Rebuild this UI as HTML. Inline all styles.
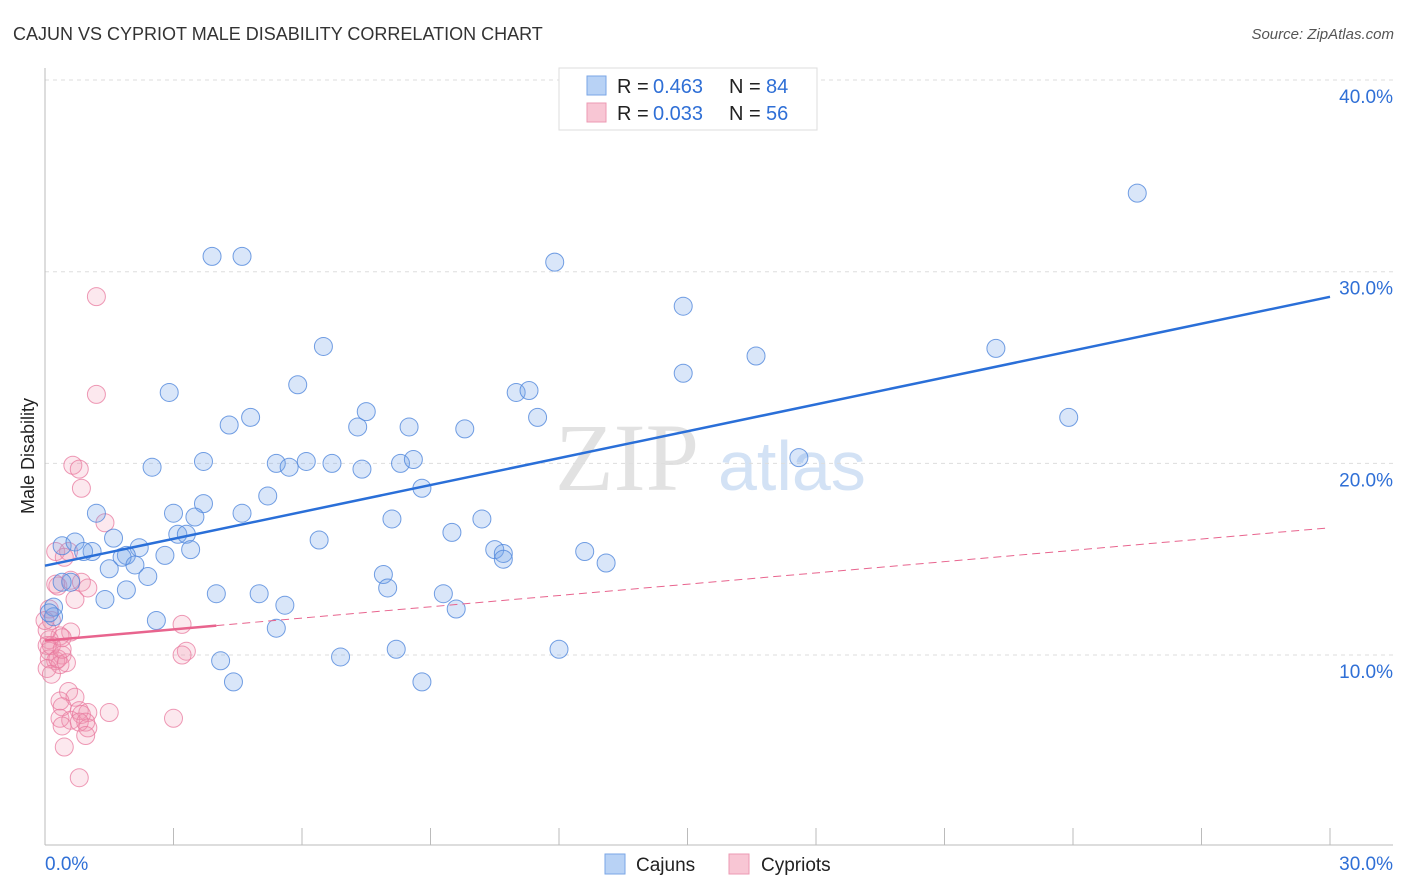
<!DOCTYPE html>
<html><head><meta charset="utf-8"><style>
body{margin:0;background:#fff;font-family:"Liberation Sans",sans-serif;}
#wrap{position:relative;width:1406px;height:892px;overflow:hidden;}
</style></head><body>
<div id="wrap">
<svg id="svg" width="1406" height="892" xmlns="http://www.w3.org/2000/svg">
<text x="13" y="40" font-size="18" fill="#333">CAJUN VS CYPRIOT MALE DISABILITY CORRELATION CHART</text>
<text x="1394" y="39" font-size="15" fill="#555" font-style="italic" text-anchor="end">Source: ZipAtlas.com</text>
<text transform="translate(34,456) rotate(-90)" font-size="18" fill="#222" text-anchor="middle">Male Disability</text>
<g>
<text x="555" y="490" font-size="96" fill="#e2e2e2" font-family="Liberation Serif,serif">ZIP</text>
<text x="718" y="490" font-size="70" fill="#d3e2f5">atlas</text>
</g>
<g id="grid"></g>
<g id="axes"></g>
<g id="pts"></g>
<g id="lines"></g>
<g>
<rect x="559" y="68" width="258" height="62" fill="#fff" stroke="#ddd"/>
<rect x="587" y="76" width="19" height="19" fill="#b8d2f5" stroke="#7aa6e6"/>
<text y="93" font-size="20" fill="#222"><tspan x="617">R = </tspan><tspan x="653" fill="#2f6fd6">0.463</tspan><tspan x="729">N = </tspan><tspan x="766" fill="#2f6fd6">84</tspan></text>
<rect x="587" y="103" width="19" height="19" fill="#f8c6d4" stroke="#ec9ab3"/>
<text y="120" font-size="20" fill="#222"><tspan x="617">R = </tspan><tspan x="653" fill="#2f6fd6">0.033</tspan><tspan x="729">N = </tspan><tspan x="766" fill="#2f6fd6">56</tspan></text>
</g>
<g>
<rect x="605" y="854" width="20" height="20" fill="#b8d2f5" stroke="#7aa6e6"/>
<text x="636" y="871" font-size="19" fill="#222">Cajuns</text>
<rect x="729" y="854" width="20" height="20" fill="#f8c6d4" stroke="#ec9ab3"/>
<text x="761" y="871" font-size="19" fill="#222">Cypriots</text>
</g>
</svg>
</div>
<script>
const yTicks=[10,20,30,40];
const yTickLabels=["10.0%","20.0%","30.0%","40.0%"];
const xTickLabels=["0.0%","30.0%"];
const cajunX=[25.5,3.9,4.6,11.9,14.9,6.5,16.6,22.2,14.9,5.9,2.9,11.0,11.3,23.9,4.8,7.5,4.3,7.3,8.5,9.8,11.5,17.6,3.7,2.5,5.4,5.7,6.1,6.7,7.4,8.3,8.6,5.2,3.7,8.8,1.2,3.0,4.6,3.5,8.1,10.2,6.4,9.5,3.1,3.3,1.6,0.4,0.7,1.1,0.9,2.2,1.9,1.8,3.4,2.8,10.5,10.7,10.7,12.6,13.1,1.5,2.1,2.4,7.9,0.6,0.4,8.0,1.9,4.0,5.0,1.4,5.6,9.3,9.6,0.2,0.2,2.6,5.4,6.9,8.2,12.0,4.1,4.4,8.8,0.1];
const cajunY=[34.1,30.8,30.8,30.5,28.2,26.1,25.6,26.0,24.7,24.1,23.7,23.7,23.8,22.4,22.4,22.7,22.0,21.9,21.9,21.8,22.4,20.3,20.1,19.8,20.0,19.8,20.1,20.0,19.7,20.0,20.2,18.3,17.9,18.7,17.4,17.4,17.4,17.2,17.1,17.1,16.0,16.4,16.3,16.3,16.1,15.7,15.9,15.4,15.4,15.6,15.2,15.1,15.5,15.2,15.5,15.3,15.0,15.4,14.8,14.5,14.7,14.1,14.2,13.8,13.8,13.5,13.4,13.2,13.2,12.9,12.6,13.2,12.4,12.5,12.0,11.8,11.4,9.9,10.3,10.3,9.7,8.6,8.6,12.2];
const cypX=[1.2,1.2,0.65,0.8,0.85,1.4,0.25,0.55,0.45,0.3,0.6,0.85,1.0,0.7,0.25,0.1,0.15,3.2,0.6,0.35,0.4,0.1,0.05,0.1,3.3,3.2,0.4,0.1,0.25,0.35,0.05,0.15,0.55,0.7,0.35,0.4,0.8,1.0,1.5,3.0,0.35,0.6,0.85,0.95,0.8,0.4,1.0,0.95,0.45,0.8,0.05,0.0,0.15,0.3,0.5,0.4];
const cypY=[28.7,23.6,19.9,19.7,18.7,16.9,15.4,15.4,15.1,13.6,13.9,13.8,13.5,12.9,13.7,12.4,11.8,11.6,11.2,11.0,10.9,10.8,10.5,10.2,10.2,10.0,10.0,9.8,9.7,9.5,9.3,9.0,8.1,7.8,7.6,7.3,7.1,7.0,7.0,6.7,6.7,6.6,6.9,6.5,6.5,6.3,6.2,5.8,5.2,3.6,11.3,11.8,10.5,9.8,9.6,10.3];
const cajunTrend=[14.66,28.69];
const cypTrend=[10.75,16.64];
const cypSolidEnd=4.0;

const X=v=>45+v/30*1285;
const Y=v=>846.7-v*19.167;
const NS="http://www.w3.org/2000/svg";
function mk(tag,attrs,parent){const e=document.createElementNS(NS,tag);for(const k in attrs)e.setAttribute(k,attrs[k]);parent.appendChild(e);return e;}
const grid=document.getElementById('grid'),axes=document.getElementById('axes'),pts=document.getElementById('pts'),lines=document.getElementById('lines');
yTicks.forEach((t,i)=>{
 const l=mk('line',{x1:45,x2:1393,y1:Y(t),y2:Y(t),stroke:'#ddd','stroke-dasharray':'4,4'},grid);
 
 
 const tx=mk('text',{x:1393,y:Y(t)+23,'font-size':19,fill:'#2f6fd6','text-anchor':'end'},axes);
 tx.textContent=yTickLabels[i];
 
 
});
const ax=mk('line',{x1:45,x2:45,y1:68,y2:845,stroke:'#bbb'},axes);


const bx=mk('line',{x1:45,x2:1393,y1:845,y2:845,stroke:'#bbb'},axes);


for(let i=1;i<=10;i++){
 const t=mk('line',{x1:X(i*3),x2:X(i*3),y1:828,y2:845,stroke:'#bbb'},axes);
 
 
}
[[0,'start',45],[30,'end',1393]].forEach((d,i)=>{
 const tx=mk('text',{x:d[2],y:870,'font-size':19,fill:'#2f6fd6','text-anchor':d[1]},axes);
 tx.textContent=xTickLabels[i];
 
 
});
cypX.forEach((v,i)=>{
 const c=mk('circle',{cx:X(v),cy:Y(cypY[i]),r:9,fill:'rgba(242,150,178,0.22)',stroke:'rgba(232,120,158,0.75)','stroke-width':1},pts);
 
 
});
cajunX.forEach((v,i)=>{
 const c=mk('circle',{cx:X(v),cy:Y(cajunY[i]),r:9,fill:'rgba(120,165,232,0.28)',stroke:'rgba(80,135,220,0.8)','stroke-width':1},pts);
 
 
});
const bl=mk('line',{x1:X(0),y1:Y(cajunTrend[0]),x2:X(30),y2:Y(cajunTrend[1]),stroke:'#2a6fd8','stroke-width':2.5},lines);


const cy=x=>cypTrend[0]+(cypTrend[1]-cypTrend[0])*x/30;
const pl=mk('line',{x1:X(0),y1:Y(cy(0)),x2:X(cypSolidEnd),y2:Y(cy(cypSolidEnd)),stroke:'#e8648e','stroke-width':2.5},lines);


const pd=mk('line',{x1:X(cypSolidEnd),y1:Y(cy(cypSolidEnd)),x2:X(30),y2:Y(cy(30)),stroke:'#e8648e','stroke-width':1,'stroke-dasharray':'8,5'},lines);


</script>
</body></html>
